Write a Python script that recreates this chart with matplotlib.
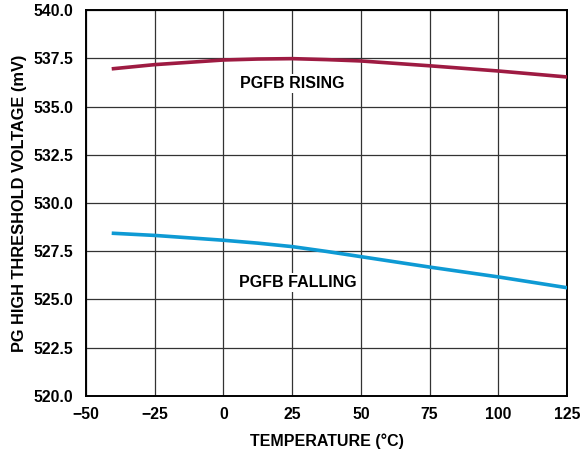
import numpy as np
import matplotlib
matplotlib.use('Agg')
import matplotlib.pyplot as plt

plt.rcParams['font.family'] = ['Liberation Sans', 'DejaVu Sans']
plt.rcParams['font.weight'] = 'bold'

temp = [-40, -25, 0, 12.5, 25, 37.5, 50, 75, 100, 125]
v_rising = [536.96, 537.17, 537.41, 537.46, 537.48, 537.43, 537.36, 537.11, 536.84, 536.53]
v_falling = [528.43, 528.32, 528.07, 527.92, 527.74, 527.49, 527.22, 526.68, 526.17, 525.61]

xticks = [-50, -25, 0, 25, 50, 75, 100, 125]
xticklabels = ['\u221250', '\u221225', '0', '25', '50', '75', '100', '125']
yticks = [520.0, 522.5, 525.0, 527.5, 530.0, 532.5, 535.0, 537.5, 540.0]

fig = plt.figure(figsize=(5.86, 4.55), dpi=100)
ax = fig.add_axes([0.1468, 0.1297, 0.8208, 0.8483])

ax.plot(temp, v_rising, '-', color='#9E1B42', linewidth=2.6, zorder=3)
ax.plot(temp, v_falling, '-', color='#0E9AD4', linewidth=2.6, zorder=3)

ax.set_xlim(-50, 125)
ax.set_ylim(520, 540)
ax.set_xticks(xticks)
ax.set_xticklabels(xticklabels)
ax.set_yticks(yticks)
ax.set_yticklabels(['%.1f' % v for v in yticks])
ax.tick_params(length=0, labelsize=11.3)
ax.tick_params(axis='x', pad=8)
ax.tick_params(axis='y', pad=9)
ax.grid(True, color='#333333', linewidth=0.9)
ax.set_axisbelow(True)
for s in ax.spines.values():
    s.set_linewidth(1.4)
    s.set_color('black')

ax.text(25, 536.2, 'PGFB RISING', ha='center', va='center', fontsize=11.5,
        fontweight='bold', bbox=dict(facecolor='white', edgecolor='none', pad=1.5), zorder=4)
ax.text(27, 525.9, 'PGFB FALLING', ha='center', va='center', fontsize=11.5,
        fontweight='bold', bbox=dict(facecolor='white', edgecolor='none', pad=1.5), zorder=4)

ax.set_xlabel('TEMPERATURE (\u00b0C)', fontsize=11.5, fontweight='bold', labelpad=8)
ax.set_ylabel('PG HIGH THRESHOLD VOLTAGE (mV)', fontsize=11.8, fontweight='bold', labelpad=5)

plt.savefig('out.png', dpi=100)
